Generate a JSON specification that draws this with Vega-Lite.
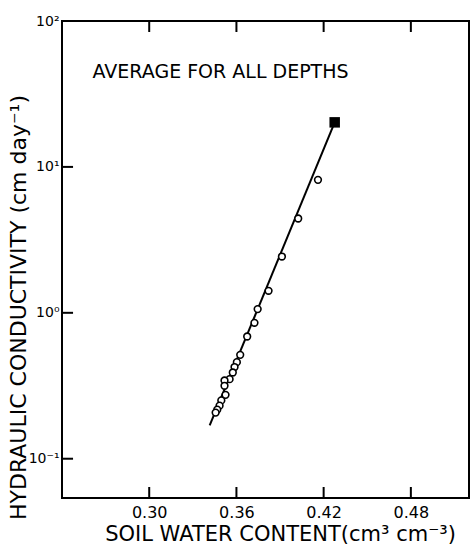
{
  "$schema": "https://vega.github.io/schema/vega-lite/v6.json",
  "width": 407,
  "height": 477,
  "autosize": "none",
  "padding": {"left": 62, "top": 21, "right": 2, "bottom": 50},
  "background": "white",
  "config": {
    "view": {"stroke": "black", "strokeWidth": 2},
    "font": "DejaVu Sans",
    "axis": {"grid": false, "domain": false, "ticks": false, "labelColor": "black", "titleColor": "black", "labelFont": "DejaVu Sans", "titleFont": "DejaVu Sans", "titleFontWeight": "normal"}
  },
  "datasets": {
    "obs": [
      {"theta": 0.4161, "k": 8.15},
      {"theta": 0.4025, "k": 4.43},
      {"theta": 0.3913, "k": 2.43},
      {"theta": 0.3821, "k": 1.415},
      {"theta": 0.3746, "k": 1.06},
      {"theta": 0.3724, "k": 0.854},
      {"theta": 0.3674, "k": 0.688},
      {"theta": 0.3626, "k": 0.515},
      {"theta": 0.3603, "k": 0.459},
      {"theta": 0.3587, "k": 0.425},
      {"theta": 0.3575, "k": 0.39},
      {"theta": 0.3553, "k": 0.351},
      {"theta": 0.3518, "k": 0.344},
      {"theta": 0.3518, "k": 0.316},
      {"theta": 0.3525, "k": 0.274},
      {"theta": 0.3496, "k": 0.251},
      {"theta": 0.3484, "k": 0.231},
      {"theta": 0.3468, "k": 0.217},
      {"theta": 0.3457, "k": 0.207}
    ],
    "fit": [
      {"theta": 0.3416, "k": 0.169},
      {"theta": 0.4276, "k": 20.2}
    ],
    "sat": [
      {"theta": 0.4276, "k": 20.2}
    ],
    "note": [
      {"theta": 0.261, "k": 44.8, "label": "AVERAGE FOR ALL DEPTHS"}
    ],
    "ticks": [
      {"tick": "b30", "theta": 0.30, "k": 0.0538},
      {"tick": "b30", "theta": 0.30, "k": 0.064},
      {"tick": "b36", "theta": 0.36, "k": 0.0538},
      {"tick": "b36", "theta": 0.36, "k": 0.064},
      {"tick": "b42", "theta": 0.42, "k": 0.0538},
      {"tick": "b42", "theta": 0.42, "k": 0.064},
      {"tick": "b48", "theta": 0.48, "k": 0.0538},
      {"tick": "b48", "theta": 0.48, "k": 0.064},
      {"tick": "t30", "theta": 0.30, "k": 100},
      {"tick": "t30", "theta": 0.30, "k": 84.1},
      {"tick": "t36", "theta": 0.36, "k": 100},
      {"tick": "t36", "theta": 0.36, "k": 84.1},
      {"tick": "t42", "theta": 0.42, "k": 100},
      {"tick": "t42", "theta": 0.42, "k": 84.1},
      {"tick": "t48", "theta": 0.48, "k": 100},
      {"tick": "t48", "theta": 0.48, "k": 84.1},
      {"tick": "l01", "theta": 0.24, "k": 0.1},
      {"tick": "l01", "theta": 0.2476, "k": 0.1},
      {"tick": "l1", "theta": 0.24, "k": 1},
      {"tick": "l1", "theta": 0.2476, "k": 1},
      {"tick": "l10", "theta": 0.24, "k": 10},
      {"tick": "l10", "theta": 0.2476, "k": 10}
    ]
  },
  "encoding": {
    "x": {"field": "theta", "type": "quantitative",
      "scale": {"domain": [0.24, 0.52], "nice": false, "zero": false},
      "axis": {"orient": "bottom", "values": [0.30, 0.36, 0.42, 0.48], "format": ".2f", "labelPadding": 6, "labelFontSize": 16, "title": "SOIL WATER CONTENT(cm³ cm⁻³)", "titleFontSize": 21, "titlePadding": 3, "titleX": 218}},
    "y": {"field": "k", "type": "quantitative",
      "scale": {"type": "log", "domain": [0.0538, 100], "nice": false},
      "axis": {"orient": "left", "values": [0.1, 1, 10, 100], "labelExpr": "datum.value == 100 ? '10²' : datum.value == 10 ? '10¹' : datum.value == 1 ? '10⁰' : '10⁻¹'", "labelPadding": 3, "labelFontSize": 14, "title": "HYDRAULIC CONDUCTIVITY (cm day⁻¹)", "titleFontSize": 22, "titlePadding": -2, "titleY": 286}}
  },
  "layer": [
    {
      "data": {"name": "ticks"},
      "mark": {"type": "line", "color": "black", "strokeWidth": 2},
      "encoding": {
        "detail": {"field": "tick", "type": "nominal"}
      }
    },
    {
      "data": {"name": "fit"},
      "mark": {"type": "line", "color": "black", "strokeWidth": 2}
    },
    {
      "data": {"name": "obs"},
      "mark": {"type": "point", "shape": "circle", "filled": false, "fill": "white", "fillOpacity": 1, "stroke": "black", "strokeWidth": 1.6, "opacity": 1, "size": 45}
    },
    {
      "data": {"name": "sat"},
      "mark": {"type": "square", "color": "black", "filled": true, "opacity": 1, "size": 110}
    },
    {
      "data": {"name": "note"},
      "mark": {"type": "text", "align": "left", "baseline": "middle", "fontSize": 19, "color": "black", "font": "DejaVu Sans"},
      "encoding": {
        "text": {"field": "label"}
      }
    }
  ]
}
